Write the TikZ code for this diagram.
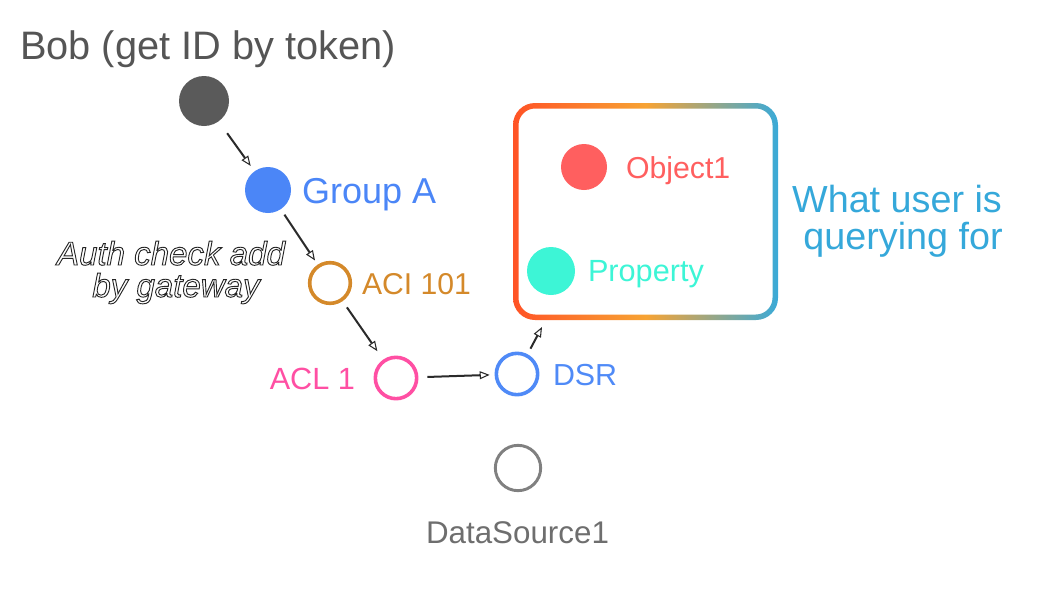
\documentclass[tikz,border=0pt]{standalone}
\usepackage{fontspec}
\setmainfont{Liberation Sans}
\usetikzlibrary{arrows.meta}
\definecolor{bobc}{HTML}{5A5A5A}
\definecolor{bobt}{HTML}{555555}
\definecolor{gac}{HTML}{4B86F7}
\definecolor{acic}{HTML}{D4892A}
\definecolor{aclc}{HTML}{FF4FA3}
\definecolor{dsrc}{HTML}{4F8AF7}
\definecolor{dsc}{HTML}{808080}
\definecolor{dst}{HTML}{6E6E6E}
\definecolor{objc}{HTML}{FF5F5F}
\definecolor{propc}{HTML}{3DF5D6}
\definecolor{whatc}{HTML}{35A8DA}
\definecolor{gradl}{HTML}{FF5326}
\definecolor{gradm}{HTML}{F7A333}
\definecolor{gradr}{HTML}{3AAAD8}
\definecolor{arrc}{HTML}{2A2A2A}
\newcommand{\outlinetext}[1]{\special{pdf:literal direct 1 Tr 0.7 w}#1\special{pdf:literal direct 0 Tr}}
\tikzset{
  dot/.style={circle, inner sep=0pt, outer sep=0pt},
  ring/.style={circle, draw, inner sep=0pt, outer sep=0pt, line width=2.7pt},
  lbl/.style={inner sep=0pt, outer sep=0pt},
  arr/.style={draw=arrc, line width=1.5pt, -{Triangle[open,length=7.5pt,width=6pt,line width=0.8pt]}},
}
\begin{document}
\begin{tikzpicture}[x=0.75pt,y=-0.75pt]
\useasboundingbox (0,0) rectangle (1042,600);
% gradient box
\shade[even odd rule, left color=gradl, right color=gradr, middle color=gradm]
  [rounded corners=16.5pt] (513,103) rectangle (778,320)
  [rounded corners=12.5pt] (518.5,108.5) rectangle (772.5,314.5);
\coordinate (boxtip) at (542,327);
% nodes
\node[dot, fill=bobc, minimum size=37.5pt] (bob) at (204,101) {};
\node[lbl, anchor=base, text=bobt, font=\fontsize{29.8}{34}\selectfont] (bobl) at (208,59) {Bob (get ID by token)};
\node[dot, fill=gac, minimum size=34.5pt] (ga) at (268,190) {};
\node[lbl, anchor=base west, text=gac, font=\fontsize{27}{32}\selectfont] (gal) at (302,203) {Group A};
\node[ring, draw=acic, minimum size=30.5pt] (aci) at (330,283) {};
\node[lbl, anchor=base west, text=acic, font=\fontsize{22.6}{27}\selectfont] (acil) at (362,294) {ACI 101};
\node[ring, draw=aclc, minimum size=31pt] (acl) at (396,378) {};
\node[lbl, anchor=base east, text=aclc, font=\fontsize{23}{27}\selectfont] (acll) at (355,389) {ACL 1};
\node[ring, draw=dsrc, minimum size=31pt] (dsr) at (517,374) {};
\node[lbl, anchor=base west, text=dsrc, font=\fontsize{22.8}{27}\selectfont] (dsrl) at (553,385) {DSR};
\node[ring, draw=dsc, line width=2.2pt, minimum size=34pt] (ds) at (518,468) {};
\node[lbl, anchor=base, text=dst, font=\fontsize{23.5}{28}\selectfont] (dsl) at (517.5,543) {DataSource1};
\node[dot, fill=objc, minimum size=34.5pt] (obj) at (584,167) {};
\node[lbl, anchor=base west, text=objc, font=\fontsize{22.7}{27}\selectfont] (objl) at (626,178) {Object1};
\node[dot, fill=propc, minimum size=36pt] (prop) at (551,271) {};
\node[lbl, anchor=base west, text=propc, font=\fontsize{23}{27}\selectfont] (propl) at (588,281) {Property};
\node[lbl, anchor=base, text=whatc, font=\fontsize{28.3}{33}\selectfont] (what1) at (897,212) {What user is};
\node[lbl, anchor=base, text=whatc, font=\fontsize{28.3}{33}\selectfont] (what2) at (903,249) {querying for};
\node[lbl, anchor=base, text=black!85, font=\fontsize{24.8}{30}\selectfont\itshape] (auth1) at (171,265) {\outlinetext{Auth check add}};
\node[lbl, anchor=base, text=black!85, font=\fontsize{24.8}{30}\selectfont\itshape] (auth2) at (176,297) {\outlinetext{by gateway}};
% arrows
\draw[arr, shorten <=11pt, shorten >=5pt] (bob) -- (ga);
\draw[arr, shorten <=5pt, shorten >=5pt] (ga) -- (aci);
\draw[arr, shorten <=7pt, shorten >=9pt] (aci) -- (acl);
\draw[arr, shorten <=8pt, shorten >=5pt] (acl) -- (dsr);
\draw[arr, shorten <=6pt] (dsr) -- (boxtip);
\end{tikzpicture}
\end{document}
